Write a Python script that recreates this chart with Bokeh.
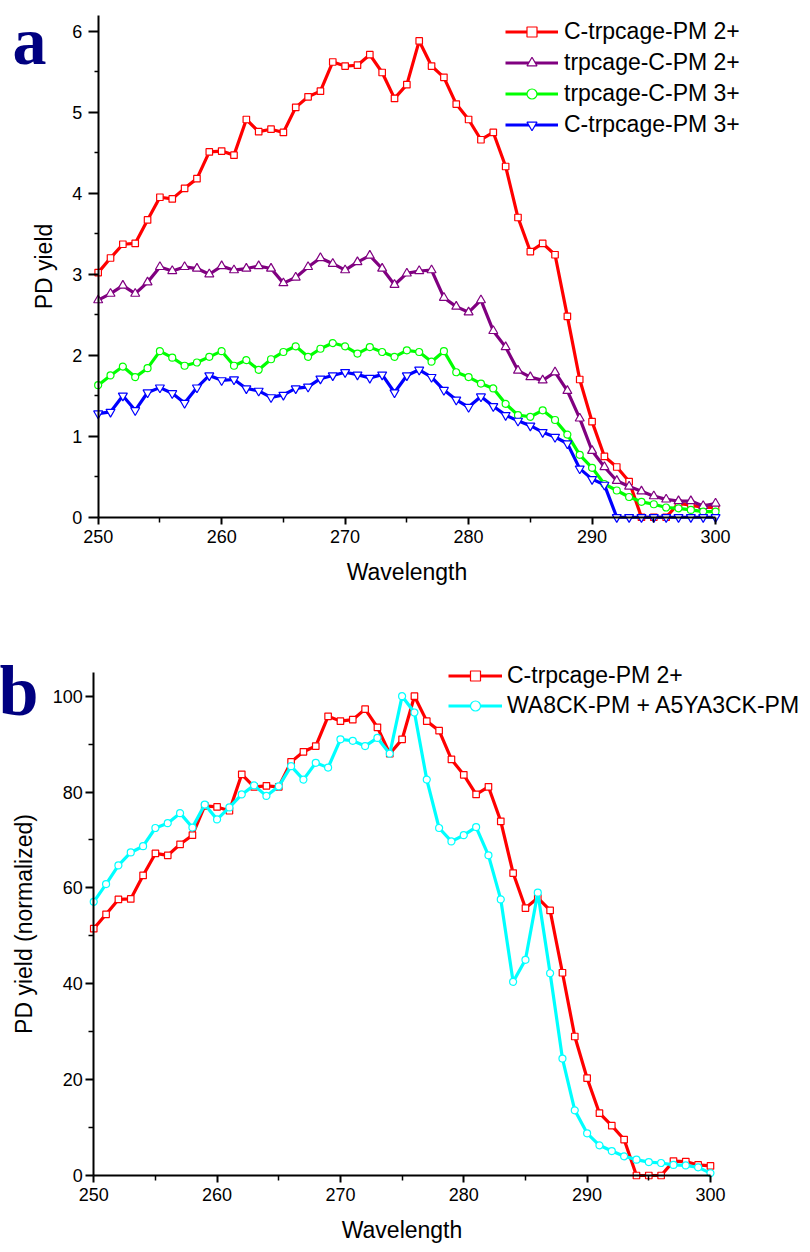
from bokeh.plotting import figure
from bokeh.layouts import column
from bokeh.models import (Range1d, FixedTicker, Legend, LegendItem, Label, LinearAxis)
from bokeh.embed import file_html
from bokeh.resources import INLINE

wavelength = list(range(250, 301))

a_red = [3.02, 3.20, 3.37, 3.38, 3.67, 3.95, 3.93, 4.06, 4.18, 4.51,
         4.52, 4.47, 4.91, 4.76, 4.79, 4.75, 5.06, 5.19, 5.26, 5.62,
         5.57, 5.58, 5.71, 5.49, 5.17, 5.34, 5.88, 5.57, 5.43, 5.10,
         4.91, 4.66, 4.75, 4.33, 3.70, 3.28, 3.38, 3.24, 2.48, 1.70,
         1.18, 0.75, 0.62, 0.44, 0.0, 0.0, 0.0, 0.17, 0.15, 0.12, 0.12]
a_purple = [2.68, 2.76, 2.86, 2.76, 2.90, 3.09, 3.04, 3.09, 3.07, 3.00,
            3.10, 3.05, 3.07, 3.10, 3.07, 2.89, 2.96, 3.09, 3.20, 3.13,
            3.05, 3.15, 3.23, 3.07, 2.87, 3.01, 3.04, 3.05, 2.71, 2.60,
            2.53, 2.68, 2.30, 2.10, 1.81, 1.73, 1.69, 1.79, 1.56, 1.22,
            0.82, 0.62, 0.45, 0.38, 0.32, 0.26, 0.22, 0.20, 0.20, 0.14, 0.17]
a_green = [1.63, 1.75, 1.86, 1.73, 1.84, 2.05, 1.97, 1.87, 1.91, 1.98,
           2.05, 1.87, 1.94, 1.82, 1.95, 2.04, 2.11, 1.98, 2.08, 2.15,
           2.11, 2.02, 2.10, 2.04, 1.98, 2.06, 2.04, 1.92, 2.05, 1.79,
           1.73, 1.65, 1.59, 1.40, 1.26, 1.24, 1.32, 1.20, 1.02, 0.77,
           0.61, 0.41, 0.33, 0.25, 0.19, 0.16, 0.12, 0.11, 0.09, 0.07, 0.07]
a_blue = [1.28, 1.30, 1.50, 1.32, 1.54, 1.60, 1.53, 1.41, 1.60, 1.75,
          1.69, 1.70, 1.59, 1.56, 1.48, 1.51, 1.59, 1.61, 1.71, 1.75,
          1.79, 1.76, 1.72, 1.76, 1.54, 1.75, 1.82, 1.73, 1.57, 1.45,
          1.36, 1.49, 1.37, 1.26, 1.19, 1.13, 1.05, 0.99, 0.91, 0.60,
          0.47, 0.40, 0.0, 0.0, 0.0, 0.0, 0.0, 0.0, 0.0, 0.0, 0.0]

b_red = [51.5, 54.5, 57.6, 57.7, 62.6, 67.2, 66.8, 69.1, 71.0, 77.1,
         76.9, 76.1, 83.7, 81.1, 81.3, 81.1, 86.3, 88.4, 89.6, 95.8,
         94.8, 95.1, 97.3, 93.5, 88.0, 91.0, 100.0, 94.8, 92.8, 86.8,
         83.6, 79.5, 81.1, 73.9, 63.1, 55.8, 57.9, 55.3, 42.3, 29.0,
         20.3, 13.0, 10.4, 7.5, 0.0, 0.0, 0.0, 3.0, 2.9, 2.2, 2.0]
b_cyan = [57.1, 60.8, 64.7, 67.4, 68.7, 72.5, 73.5, 75.6, 72.6, 77.4,
          74.3, 76.8, 79.5, 81.4, 79.2, 81.2, 85.4, 82.6, 86.1, 85.1,
          91.0, 90.7, 89.6, 91.3, 88.0, 100.0, 96.6, 82.6, 72.5, 69.7,
          71.0, 72.7, 66.8, 57.6, 40.4, 45.0, 59.0, 42.2, 24.4, 13.6,
          8.8, 6.3, 5.1, 4.0, 3.3, 2.8, 2.6, 2.2, 2.1, 1.7, 0.5]

a_labels = ["C-trpcage-PM 2+", "trpcage-C-PM 2+", "trpcage-C-PM 3+", "C-trpcage-PM 3+"]
b_labels = ["C-trpcage-PM 2+", "WA8CK-PM + A5YA3CK-PM"]

x_ticks = [250, 260, 270, 280, 290, 300]
x_minor = [255, 265, 275, 285, 295]
a_yticks = [0, 1, 2, 3, 4, 5, 6]
a_yminor = [0.5, 1.5, 2.5, 3.5, 4.5, 5.5]
b_yticks = [0, 20, 40, 60, 80, 100]
b_yminor = [10, 30, 50, 70, 90]

FONT = "Liberation Sans"
W = 810


def make_panel(height, x_lo, x_hi, y_lo, y_hi, y_top, xt, yt, ytm, ylabel,
               y_tick_out, y_minor_out, y_standoff):
    p = figure(width=W, height=height, output_backend="svg", toolbar_location=None,
               x_range=Range1d(x_lo, x_hi), y_range=Range1d(y_lo, y_hi),
               x_axis_location=None, y_axis_location=None, min_border=0)
    p.grid.visible = False
    p.outline_line_color = None
    xa = LinearAxis(fixed_location=0, bounds=(250, 300),
                    ticker=FixedTicker(ticks=xt[0], minor_ticks=xt[1]),
                    axis_label="Wavelength")
    ya = LinearAxis(fixed_location=250, bounds=(0, y_top),
                    ticker=FixedTicker(ticks=yt, minor_ticks=ytm),
                    axis_label=ylabel)
    for ax in (xa, ya):
        ax.axis_line_width = 2
        ax.axis_line_color = "black"
        ax.major_tick_line_width = 2
        ax.minor_tick_line_width = 1.5
        ax.major_tick_in = 0
        ax.minor_tick_in = 0
        ax.major_label_text_font = FONT
        ax.major_label_text_font_size = "18px"
        ax.major_label_text_color = "black"
        ax.axis_label_text_font = FONT
        ax.axis_label_text_font_size = "23px"
        ax.axis_label_text_font_style = "normal"
        ax.axis_label_text_color = "black"
    xa.major_tick_out = 7
    xa.minor_tick_out = 5
    xa.major_label_standoff = 6
    xa.axis_label_standoff = 12
    ya.major_tick_out = y_tick_out
    ya.minor_tick_out = y_minor_out
    ya.major_label_standoff = y_standoff
    ya.axis_label_standoff = 12
    p.add_layout(xa, "below")
    p.add_layout(ya, "left")
    return p


# ---------------- panel a ----------------
# 250 -> px 97.7, 300 -> px 715 ; y 0 -> px 516.7 (of 600), 81 px per unit
pa = make_panel(600, 242.09, 307.69, -1.028, 6.379, 6.19,
                (x_ticks, x_minor), a_yticks, a_yminor, "PD yield", 10, 4, 6)

series_a = [
    (a_red, "#FF0000", "square", 6.5),
    (a_purple, "#800080", "triangle", 9),
    (a_green, "#00FF00", "circle", 7),
    (a_blue, "#0000FF", "inverted_triangle", 9),
]
items_a = []
for (vals, col, mk, sz), lab in zip(series_a, a_labels):
    lr = pa.line(wavelength, vals, line_color=col, line_width=3.2)
    sr = pa.scatter(wavelength, vals, marker=mk, size=sz, line_color=col,
                    fill_color="white", line_width=1.2)
    items_a.append(LegendItem(label=lab, renderers=[lr, sr]))

leg_a = Legend(items=items_a, location=(505, 462), padding=0, margin=0,
               border_line_color=None, background_fill_alpha=0,
               glyph_width=53, glyph_height=25, label_height=25,
               spacing=4, label_standoff=6,
               label_text_font=FONT, label_text_font_size="23px",
               label_text_color="black")
pa.add_layout(leg_a, "center")

pa.add_layout(Label(x=12, y=598, x_units="screen", y_units="screen", text="a",
                    text_font="Liberation Serif", text_font_style="bold",
                    text_font_size="68px", text_color="#000080",
                    text_baseline="top"))

# ---------------- panel b ----------------
# 250 -> px 93.3, 300 -> px 710 ; y 0 -> px 575 (of 652), 4.793 px per unit
pb = make_panel(652, 242.44, 308.11, -16.07, 119.97, 104.9,
                (x_ticks, x_minor), b_yticks, b_yminor, "PD yield (normalized)", 8, 5, 3)

series_b = [
    (b_red, "#FF0000", "square", 6.5),
    (b_cyan, "#00FFFF", "circle", 7),
]
items_b = []
for (vals, col, mk, sz), lab in zip(series_b, b_labels):
    lr = pb.line(wavelength, vals, line_color=col, line_width=3.2)
    sr = pb.scatter(wavelength, vals, marker=mk, size=sz, line_color=col,
                    fill_color="white", line_width=1.2)
    items_b.append(LegendItem(label=lab, renderers=[lr, sr]))

leg_b = Legend(items=items_b, location=(448, 533), padding=0, margin=0,
               border_line_color=None, background_fill_alpha=0,
               glyph_width=54, glyph_height=25, label_height=25,
               spacing=3, label_standoff=5,
               label_text_font=FONT, label_text_font_size="23px",
               label_text_color="black")
pb.add_layout(leg_b, "center")

pb.add_layout(Label(x=-2, y=562, x_units="screen", y_units="screen", text="b",
                    text_font="Liberation Serif", text_font_style="bold",
                    text_font_size="72px", text_color="#000080",
                    text_baseline="alphabetic"))

layout = column(pa, pb)
open("out.html", "w").write(file_html(layout, INLINE))
